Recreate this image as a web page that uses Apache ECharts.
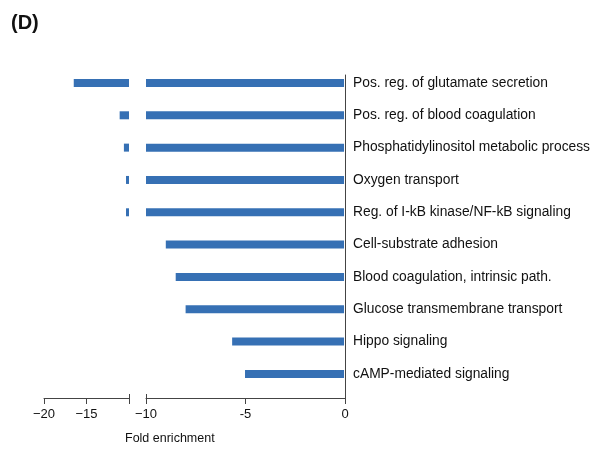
<!DOCTYPE html>
<html>
<head>
<meta charset="utf-8">
<script src="https://cdn.jsdelivr.net/npm/echarts@6/dist/echarts.min.js"></script>
<style>
  html, body { margin: 0; padding: 0; background: #ffffff; }
  #chart { width: 593px; height: 449px; }
</style>
</head>
<body>
<div id="chart"></div>
<script>
// GO terms, listed top to bottom
const categories = [
  'Pos. reg. of glutamate secretion',
  'Pos. reg. of blood coagulation',
  'Phosphatidylinositol metabolic process',
  'Oxygen transport',
  'Reg. of I-kB kinase/NF-kB signaling',
  'Cell-substrate adhesion',
  'Blood coagulation, intrinsic path.',
  'Glucose transmembrane transport',
  'Hippo signaling',
  'cAMP-mediated signaling'
];
// fold enrichment per term (negative = depleted direction)
const foldEnrichment = [-16.5, -11.1, -10.6, -10.35, -10.35, -9.0, -8.5, -8.0, -5.65, -5.0];

// broken x axis: far segment and near segment
const farTicks = [-20, -15, -10];
const farTickText = ['\u221220', '\u221215', ''];
const nearTicks = [-10, -5, 0];
const nearTickText = ['\u221210', '-5', '0'];
const breakValue = [-10];

const barColor = '#3670b4';
const axisColor = '#444444';
const font = 'Liberation Sans, Arial, sans-serif';

function tickFormatter(values, texts) {
  return function (v) {
    const i = values.indexOf(Math.round(v));
    return i >= 0 ? texts[i] : '';
  };
}

const chart = echarts.init(document.getElementById('chart'), null, { renderer: 'canvas' });

const barTop = 66.8, barHeight = 323.3;
const axisTop = 75, axisHeight = 323;
const nearLeft = 146, nearWidth = 199;
const farLeft = 44, farWidth = 85;

const option = {
  backgroundColor: '#ffffff',
  animation: false,
  title: {
    text: '(D)',
    left: 6, top: 8,
    textStyle: { fontFamily: font, fontWeight: 'bold', fontSize: 20, color: '#111111' }
  },
  graphic: [{
    type: 'text',
    left: 125, top: 432,
    style: { text: 'Fold enrichment', font: '12.5px ' + font, fill: '#111111' }
  }],
  grid: [
    // 0: bars, near segment
    { left: nearLeft, top: barTop, width: nearWidth, height: barHeight, containLabel: false },
    // 1: bars, far segment
    { left: farLeft, top: barTop, width: farWidth, height: barHeight, containLabel: false },
    // 2: axes, near segment
    { left: nearLeft, top: axisTop, width: nearWidth, height: axisHeight, containLabel: false },
    // 3: axes, far segment
    { left: farLeft, top: axisTop, width: farWidth, height: axisHeight, containLabel: false }
  ],
  xAxis: [
    { gridIndex: 0, type: 'value', min: -10, max: 0, show: false },
    { gridIndex: 1, type: 'value', min: -20, max: -10, show: false },
    {
      gridIndex: 2, type: 'value', min: -10, max: 0, interval: 5, position: 'bottom',
      splitLine: { show: false },
      axisLine: { show: true, onZero: false, lineStyle: { color: axisColor, width: 1 } },
      axisTick: { show: true, length: 6, lineStyle: { color: axisColor } },
      axisLabel: {
        margin: 10, fontFamily: font, fontSize: 13, color: '#111111',
        formatter: tickFormatter(nearTicks, nearTickText)
      }
    },
    {
      gridIndex: 3, type: 'value', min: -20, max: -10, interval: 5, position: 'bottom',
      splitLine: { show: false },
      axisLine: { show: true, onZero: false, lineStyle: { color: axisColor, width: 1 } },
      axisTick: { show: true, length: 6, lineStyle: { color: axisColor } },
      axisLabel: {
        margin: 10, fontFamily: font, fontSize: 13, color: '#111111',
        formatter: tickFormatter(farTicks, farTickText)
      }
    },
    // short upward ticks marking the break
    {
      gridIndex: 2, type: 'value', min: -10, max: 0, position: 'bottom',
      splitLine: { show: false },
      axisLine: { show: false, onZero: false },
      axisLabel: { show: false },
      axisTick: { show: true, inside: true, length: 4, customValues: breakValue, lineStyle: { color: axisColor } }
    },
    {
      gridIndex: 3, type: 'value', min: -20, max: -10, position: 'bottom',
      splitLine: { show: false },
      axisLine: { show: false, onZero: false },
      axisLabel: { show: false },
      axisTick: { show: true, inside: true, length: 4, customValues: breakValue, lineStyle: { color: axisColor } }
    }
  ],
  yAxis: [
    {
      gridIndex: 0, type: 'category', data: categories, inverse: true, position: 'right',
      axisLine: { show: false }, axisTick: { show: false }, splitLine: { show: false },
      axisLabel: { margin: 9, fontFamily: font, fontSize: 13.8, color: '#111111' }
    },
    {
      gridIndex: 1, type: 'category', data: categories, inverse: true, show: false
    },
    {
      gridIndex: 2, type: 'value', min: 0, max: 1, position: 'right',
      splitLine: { show: false },
      axisLine: { show: true, onZero: false, lineStyle: { color: axisColor, width: 1 } },
      axisTick: { show: false }, axisLabel: { show: false }
    },
    {
      gridIndex: 3, type: 'value', min: 0, max: 1, show: false
    }
  ],
  series: [
    {
      type: 'bar', xAxisIndex: 0, yAxisIndex: 0, data: foldEnrichment,
      barWidth: 8, clip: true, silent: true,
      itemStyle: { color: barColor }
    },
    {
      type: 'bar', xAxisIndex: 1, yAxisIndex: 1, data: foldEnrichment,
      barWidth: 8, clip: true, silent: true,
      itemStyle: { color: barColor }
    }
  ]
};

chart.setOption(option);
</script>
</body>
</html>
